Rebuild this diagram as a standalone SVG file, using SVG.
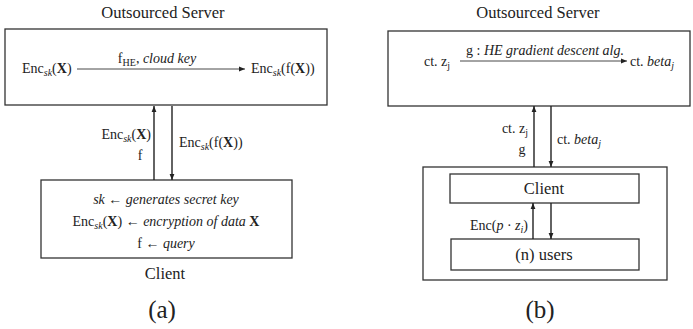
<svg xmlns="http://www.w3.org/2000/svg" width="693" height="329" viewBox="0 0 693 329">
<style>
text{font-family:"Liberation Serif","DejaVu Serif",serif;fill:#222;font-size:14px}
.t{font-size:16.5px}
.cap{font-size:25px}
.box{fill:#fff;stroke:#333;stroke-width:1.3}
.ln{stroke:#222;stroke-width:1.4;fill:none}
.thin{stroke:#333;stroke-width:0.9;fill:none}
.i{font-style:italic}
.b{font-weight:bold}
.s{font-size:10px}
</style>
<defs>
<marker id="ah" viewBox="0 0 10 10" refX="10" refY="5" markerWidth="6" markerHeight="6" markerUnits="userSpaceOnUse" orient="auto">
<path d="M0,1 L10,5 L0,9 z" fill="#222"/>
</marker>
</defs>
<rect width="693" height="329" fill="#fff"/>

<!-- Panel (a) -->
<g id="server-a">
<text class="t" x="163" y="18" text-anchor="middle">Outsourced Server</text>
<rect class="box" x="5" y="29" width="322" height="76"/>
<text x="22" y="73">Enc<tspan class="i s" dy="3">sk</tspan><tspan dy="-3">(</tspan><tspan class="b">X</tspan>)</text>
<text x="251" y="73">Enc<tspan class="i s" dy="3">sk</tspan><tspan dy="-3">(f(</tspan><tspan class="b">X</tspan>))</text>
<text x="157" y="63" text-anchor="middle">f<tspan class="s" dy="3">HE</tspan><tspan dy="-3">, </tspan><tspan class="i">cloud key</tspan></text>
</g>
<g id="client-a">
<rect class="box" x="41" y="180" width="251" height="78"/>
<text x="166" y="204" text-anchor="middle"><tspan class="i">sk</tspan> ← <tspan class="i">generates secret key</tspan></text>
<text x="166" y="226" text-anchor="middle">Enc<tspan class="i s" dy="3">sk</tspan><tspan dy="-3">(</tspan><tspan class="b">X</tspan>) ← <tspan class="i">encryption of data </tspan><tspan class="b">X</tspan></text>
<text x="166" y="248" text-anchor="middle">f ← <tspan class="i">query</tspan></text>
<text class="t" x="165" y="279" text-anchor="middle">Client</text>
</g>
<text class="cap" x="162" y="318" text-anchor="middle">(a)</text>

<!-- Panel (b) -->
<g id="server-b">
<text class="t" x="538" y="18" text-anchor="middle">Outsourced Server</text>
<rect class="box" x="388" y="31" width="302" height="75"/>
<text x="424" y="66">ct. z<tspan class="s" dy="3">j</tspan></text>
<text x="630" y="66">ct. <tspan class="i">beta</tspan><tspan class="i s" dy="3">j</tspan></text>
<text x="545" y="55" text-anchor="middle" font-size="13.5">g : <tspan class="i">HE gradient descent alg.</tspan></text>
</g>
<g id="client-group-b">
<rect class="box" x="423" y="167" width="244" height="113"/>
</g>
<g id="client-b">
<rect class="box" x="450" y="174" width="189" height="29"/>
<text class="t" x="544" y="194" text-anchor="middle">Client</text>
</g>
<g id="users-b">
<rect class="box" x="451" y="239" width="188" height="31"/>
<text class="t" x="544" y="260" text-anchor="middle">(n) users</text>
</g>
<text class="cap" x="540" y="318" text-anchor="middle">(b)</text>

<g id="connectors">
<line class="thin" x1="77" y1="69" x2="245" y2="69" marker-end="url(#ah)"/>
<line class="ln" x1="154" y1="180" x2="154" y2="106" marker-end="url(#ah)"/>
<line class="ln" x1="172" y1="106" x2="172" y2="180" marker-end="url(#ah)"/>
<text x="151" y="139" text-anchor="end">Enc<tspan class="i s" dy="3">sk</tspan><tspan dy="-3">(</tspan><tspan class="b">X</tspan>)</text>
<text x="140" y="160" text-anchor="middle">f</text>
<text x="179" y="147">Enc<tspan class="i s" dy="3">sk</tspan><tspan dy="-3">(f(</tspan><tspan class="b">X</tspan>))</text>

<line class="thin" x1="460" y1="61" x2="627" y2="61" marker-end="url(#ah)"/>
<line class="ln" x1="534" y1="167" x2="534" y2="106" marker-end="url(#ah)"/>
<line class="ln" x1="551" y1="106" x2="551" y2="167" marker-end="url(#ah)"/>
<text x="528" y="133" text-anchor="end">ct. z<tspan class="s" dy="3">j</tspan></text>
<text x="522" y="154" text-anchor="middle">g</text>
<text x="557" y="144">ct. <tspan class="i">beta</tspan><tspan class="i s" dy="3">j</tspan></text>

<line class="ln" x1="533" y1="239" x2="533" y2="203" marker-end="url(#ah)"/>
<line class="ln" x1="551" y1="203" x2="551" y2="239" marker-end="url(#ah)"/>
<text x="528" y="230" text-anchor="end">Enc(<tspan class="i">p</tspan> · <tspan class="i">z</tspan><tspan class="i s" dy="3">i</tspan><tspan dy="-3">)</tspan></text>
</g>
</svg>
